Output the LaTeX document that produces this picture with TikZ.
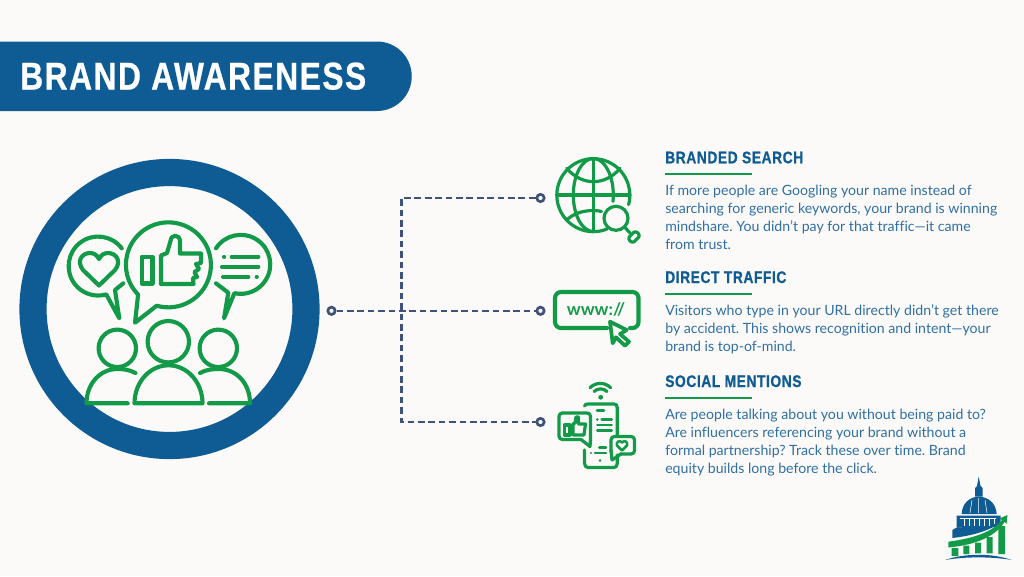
\documentclass[tikz,border=0pt]{standalone}
\usepackage{xcolor}
\usepackage{fontspec}
\setmainfont[Ligatures=NoCommon]{Lato}
\newfontfamily\headfont[FakeStretch=0.82,BoldFeatures={FakeBold=0.7}]{Liberation Sans}
\frenchspacing
\definecolor{pagebg}{HTML}{FBFAF8}
\definecolor{brandblue}{HTML}{0F5C94}
\definecolor{bodyblue}{HTML}{2F6FA5}
\definecolor{icongreen}{HTML}{129A49}
\definecolor{dashblue}{HTML}{3F5279}
\tikzset{
	icon/.style={draw=icongreen,line width=3.1pt,line cap=round,line join=round},
	thinicon/.style={draw=icongreen,line width=2.4pt,line cap=round,line join=round},
	dotnode/.style={circle,draw=dashblue,fill=pagebg,line width=2pt,minimum size=5.5pt,inner sep=0pt},
	dashline/.style={draw=dashblue,line width=1.9pt,dash pattern=on 5pt off 2.8pt},
	headtext/.style={anchor=base west,inner sep=0pt,text=brandblue,font=\headfont\bfseries\fontsize{12.6pt}{14pt}\selectfont\addfontfeature{LetterSpace=3.5}},
	bodytext/.style={anchor=base west,align=left,inner sep=0pt,text=bodyblue,font=\fontsize{10.6pt}{13.5pt}\selectfont},
	headrule/.style={draw=icongreen,line width=1.8pt}
}
\begin{document}
\begin{tikzpicture}[x=0.75pt,y=-0.75pt]
	\fill[pagebg] (0,0) rectangle (1024,576);
	\useasboundingbox (0,0) rectangle (1024,576);
	% banner
	\fill[brandblue] (0,41.5) -- (377,41.5) arc[start angle=-90,end angle=90,radius=34.75] -- (0,111) -- cycle;
	\node[anchor=base west,inner sep=0pt,text=white,font=\headfont\bfseries\fontsize{29pt}{30pt}\selectfont\addfontfeature{LetterSpace=4}] (title) at (20,89.5) {BRAND AWARENESS};
	% ring
	\draw[brandblue,line width=20.4pt] (169.5,309) circle[radius=136.5];
	% centre bubble, thumb
	\draw[icon] (156.7,305.7) arc[start angle=106,end angle=-224.5,radius=42.5] -- (135,322.7) -- cycle;
	\draw[icon] (141.7,256.7) rectangle (152.5,283.5);
	\draw[icon] (161,284) -- (161,255.5) -- (167,253) -- (170.5,241) .. controls (171,234) and (179.5,234) .. (180,241) -- (180,253.5) -- (201,253.5) -- (201,263) -- (196,264) -- (199,269) -- (194.5,272) -- (197,277) -- (193,278) -- (193.5,284) -- cycle;
	% left bubble, heart
	\draw[icon] (121.7,248.3) arc[start angle=-37,end angle=-286,radius=29.5] -- (119.3,318.3) -- (115,290) -- (123.3,283.3);
	\draw[icon] (99,285.5) -- (83,270) .. controls (76,261) and (82,253) .. (90,253) .. controls (94,253) and (97,255) .. (99,259) .. controls (101,255) and (104,253) .. (108,253) .. controls (116,253) and (122,261) .. (115,270) -- cycle;
	% right bubble, lines
	\draw[icon] (216,248.3) arc[start angle=-147,end angle=102.4,radius=29.5] -- (224,318.3) -- (228.3,292.7) -- (216,283.3);
	\draw[icon] (224,256.7) -- (224.1,256.7) (231.7,256.7) -- (258.3,256.7) (222,266.7) -- (258.3,266.7) (223,276.7) -- (248.3,276.7) (256.7,276.7) -- (256.8,276.7);
	% people
	\draw[icon] (168.3,341.7) circle[radius=20.7];
	\draw[icon] (134.5,403.3) arc[start angle=180,end angle=360,x radius=34,y radius=38] -- cycle;
	\draw[icon] (117.3,348.3) circle[radius=18.7];
	\draw[icon] (135.5,373) .. controls (129,369.5) and (123,369) .. (117,369) .. controls (100,369) and (86.5,384) .. (86.5,403.3) -- (127.7,403.3);
	\draw[icon] (218.3,348.3) circle[radius=18.7];
	\draw[icon] (200,373) .. controls (206,369.5) and (213,369) .. (219,369) .. controls (237,369) and (250,384) .. (250,403.3) -- (209,403.3);
	% connectors
	\node[dotnode] (dotcentre) at (331.5,310.8) {};
	\node[dotnode] (dotglobe) at (540.5,198) {};
	\node[dotnode] (dotwww) at (540.5,310.8) {};
	\node[dotnode] (dotphone) at (540.5,422) {};
	\coordinate (branch) at (401.5,310.8);
	\draw[dashline] (dotcentre) -- (dotwww);
	\draw[dashline] (dotglobe) -- (dotglobe -| branch) -- (dotphone -| branch) -- (dotphone);
	% globe
	\draw[thinicon] (607,229) arc[start angle=68,end angle=375,radius=36.5];
	\draw[thinicon] (556.8,195) -- (630,195) (593.3,158.5) -- (593.3,231.5);
	\draw[thinicon] (593.3,158.5) arc[start angle=270,end angle=90,x radius=20,y radius=36.5];
	\draw[thinicon] (593.3,158.5) arc[start angle=-90,end angle=10,x radius=20,y radius=36.5];
	\draw[thinicon] (566.7,168.3) .. controls (574,177) and (584,181.7) .. (593.3,181.7) .. controls (603,181.7) and (613,177) .. (620,168.3);
	\draw[thinicon] (566.7,220) .. controls (574,213) and (584,210.5) .. (593.3,210.5) .. controls (596,210.5) and (599,210.7) .. (601.5,211.5);
	\draw[thinicon] (616,218.3) circle[radius=12];
	\draw[thinicon] (624.5,227) -- (630,233);
	\draw[thinicon,fill=pagebg,rounded corners=2pt,rotate around={45:(634,237)}] (628.5,233.5) rectangle (639.5,240.5);
	% www box
	\draw[icon,rounded corners=4.5pt] (607,328) -- (555,328) -- (555,292) -- (638.5,292) -- (638.5,328) -- (630,328);
	\node[text=icongreen,inner sep=0pt,font=\fontsize{13pt}{15pt}\bfseries\selectfont] (www) at (596,309.5) {www://};
	\draw[thinicon,line width=2.8pt] (610,321.7) -- (626.7,330) -- (620,334) -- (629,341.7) -- (625,345.7) -- (616,337.3) -- (612.7,343.3) -- cycle;
	% phone
	\draw[thinicon] (584.5,406) .. controls (585,404.5) and (586,404) .. (588,404) -- (614,404) .. controls (616,404) and (617.3,405) .. (617.3,408) -- (617.3,435);
	\draw[thinicon] (617.3,455) -- (617.3,463) .. controls (617.3,466) and (616,467.5) .. (614,467.5) -- (588,467.5) .. controls (586,467.5) and (584.5,466) .. (584.5,463) -- (584.5,450);
	\draw[thinicon,rounded corners=2.5pt] (590.5,439.5) -- (590.5,413) -- (559,413) -- (559,439.5) -- (581,439.5);
	\draw[thinicon] (581,439.5) -- (590,446.5) -- (590.5,439.5);
	\draw[thinicon] (564.5,425) rectangle (570,435);
	\draw[thinicon] (573,435) -- (573,424) -- (575,423) -- (576,417) -- (578.5,417) -- (578.5,424) -- (585.5,424) -- (584,435) -- cycle;
	\draw[thinicon,line width=1.9pt] (597,410.7) -- (604,410.7) (597.3,419.3) -- (597.4,419.3) (601.7,419.3) -- (611.7,419.3) (597.3,425) -- (611.7,425) (597.3,430.3) -- (611.7,430.3) (599.3,447.7) -- (606,447.7) (591,453) -- (591.1,453) (595,453) -- (606,453) (600,460.7) -- (600.1,460.7);
	\draw[thinicon,rounded corners=2.5pt] (620,454) -- (634.5,454) -- (634.5,436.5) -- (611,436.5) -- (611,452);
	\draw[thinicon] (621,454) -- (612,460) -- (611,450);
	\draw[thinicon,line width=1.9pt] (622,450.5) -- (617,445.5) .. controls (615.5,442) and (620,439.5) .. (622,442.5) .. controls (624,439.5) and (628.5,442) .. (627,445.5) -- cycle;
	\draw[thinicon] (590,387.7) arc[start angle=-135,end angle=-45,radius=14.6];
	\draw[thinicon] (594.2,391.5) arc[start angle=-135,end angle=-45,radius=9];
	\fill[icongreen] (600.7,397.3) circle[radius=2.4];
	% texts
	\node[headtext] (searchhead) at (665,163.3) {BRANDED SEARCH};
	\draw[headrule] (665,174) -- (751.7,174);
	\node[bodytext] (searchbody) at (665,249) {If more people are Googling your name instead of\\searching for generic keywords, your brand is winning\\mindshare. You didn’t pay for that traffic—it came\\from trust.};
	\node[headtext] (traffichead) at (665,283) {DIRECT TRAFFIC};
	\draw[headrule] (665,294) -- (751.7,294);
	\node[bodytext] (trafficbody) at (665,351) {Visitors who type in your URL directly didn’t get there\\by accident. This shows recognition and intent—your\\brand is top-of-mind.};
	\node[headtext] (socialhead) at (665,387) {SOCIAL MENTIONS};
	\draw[headrule] (665,398) -- (751.7,398);
	\node[bodytext] (socialbody) at (665,473) {Are people talking about you without being paid to?\\Are influencers referencing your brand without a\\formal partnership? Track these over time. Brand\\equity builds long before the click.};
	% logo
	\fill[brandblue] (978.7,476.5) -- (980.5,486) -- (982.7,488) -- (982.7,496.5) -- (975,496.5) -- (975,488) -- (977,486) -- cycle;
	\fill[brandblue] (961.7,514) .. controls (962,503) and (970,496.7) .. (978.7,496.7) .. controls (988,496.7) and (996,503) .. (996.7,514) -- cycle;
	\draw[white,line width=0.4pt] (970,513) -- (972,500) (978.7,513) -- (978.7,498) (987,513) -- (985,500);
	\fill[brandblue] (956.7,515.5) -- (1000.7,515.5) -- (1000.7,521) -- (997,527) -- (960,527.5) -- (956.7,527.5) -- cycle;
	\draw[white,line width=0.5pt] (960,518.5) -- (996,518.5) (964,519) -- (964,526) (969,519) -- (969,526) (974,519) -- (974,526) (979,519) -- (979,526) (984,519) -- (984,526) (989,519) -- (989,526) (994,519) -- (994,524);
	\fill[brandblue] (956.7,527.5) -- (952.3,530) -- (952.3,538) .. controls (970,536) and (985,532) .. (996,525.5) -- cycle;
	\fill[icongreen] (948.3,541.7) .. controls (975,538) and (992,532) .. (1002,520) -- (999.5,518.5) -- (1007.5,515) -- (1006.5,524) -- (1004.5,522) .. controls (995,537) and (975,545) .. (948.3,547.5) -- cycle;
	\fill[icongreen] (951.7,548) rectangle (958.3,556) (963.3,545.5) rectangle (969.3,554) (975,542.5) rectangle (981,553.3) (986.7,537) rectangle (992.7,553.3) (998.3,526) rectangle (1005,554);
	\fill[brandblue] (945,560) .. controls (965,553) and (992,553) .. (1011.7,560) .. controls (992,556.5) and (965,556.5) .. (945,560);
\end{tikzpicture}
\end{document}
